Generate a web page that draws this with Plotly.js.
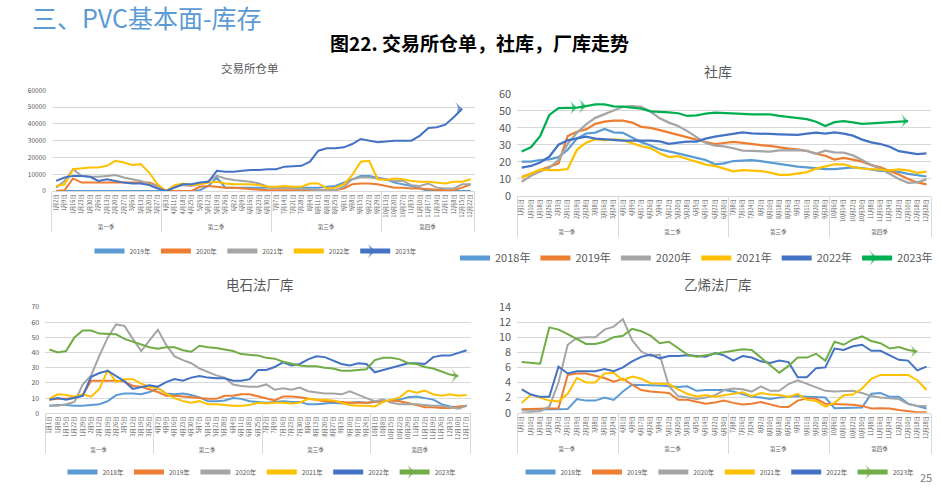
<!DOCTYPE html>
<html><head><meta charset="utf-8">
<script src="https://cdn.plot.ly/plotly-3.0.1.min.js"></script>
<style>html,body{margin:0;padding:0;background:#fff;width:941px;height:488px;overflow:hidden}#chart{position:absolute;left:0;top:0;width:941px;height:488px;overflow:hidden}</style>
</head><body><div id="chart"></div>
<script>
// ---------- categories ----------
const QUARTERS = ['第一季','第二季','第三季','第四季'];

// 交易所仓单
const wrDates = [
  ['1月2日','1月9日','1月16日','1月23日','1月30日','2月6日','2月13日','2月20日','2月27日','3月6日','3月13日','3月20日','3月27日'],
  ['4月3日','4月11日','4月18日','4月25日','5月5日','5月12日','5月19日','5月26日','6月2日','6月9日','6月16日','6月23日','6月30日'],
  ['7月7日','7月14日','7月21日','7月28日','8月4日','8月11日','8月18日','8月25日','9月1日','9月8日','9月15日','9月22日','9月29日'],
  ['10月13日','10月20日','10月27日','11月3日','11月10日','11月17日','11月24日','12月1日','12月8日','12月15日','12月22日']
];
const wr2019 = [0,0,0,0,0,0,0,0,0,0,0,0,0, 0,0,0,0,500,3000,8000,2000,2000,2000,2000,2000,2000, 2000,2000,2000,2000,2000,2000,2500,3000,5000,7000,9000,9000,8000, 7000,5000,4000,3000,1500,0,0,0,0,0,0];
const wr2020 = [0,500,7500,5000,5000,5000,5000,5000,5000,5000,5000,5000,3000, 0,0,0,0,2500,3000,2500,2000,2000,1500,1000,800,500, 500,500,500,500,500,500,500,500,1500,4000,4500,4500,4000, 3000,2000,2000,1500,1500,1000,800,500,500,2000,4000];
const wr2021 = [2000,6000,13000,9000,8500,8500,9000,9500,8000,7000,6000,4000,3000, 0,2500,3500,3000,4000,6000,9000,7500,6500,6000,5500,4500,2500, 2000,2000,1500,1000,1000,500,500,500,2500,7000,8000,8000,7500, 7000,6000,6000,3500,3000,4500,2000,1500,1500,4000,4000];
const wr2022 = [3000,4000,13000,13500,14000,14000,15000,18000,17000,15500,16000,11000,4000, 0,3500,4500,3500,4000,5000,5500,4500,4000,4000,4000,3500,2500, 2500,3000,2500,2500,4500,4500,1500,2000,4000,9500,17500,18000,7000, 6500,7500,7000,6000,5500,5500,5000,4500,5500,5500,7000];
const wr2023 = [6000,8000,9000,9000,8500,6000,7000,6000,5000,4500,4500,3500,1500, 0,2000,4000,4000,5000,5500,12000,11500,11500,12000,12500,12500,13000, 13000,14500,14800,15000,17500,24000,25500,25500,26000,28000,31000,30000,29000, 29500,30000,30000,30000,33000,37500,38000,39500,44000,49000];

// 社库 / 乙烯法厂库
const wkDates = [
  ['1月1日','1月10日','1月18日','1月26日','2月3日','2月11日','2月19日','2月28日','3月8日','3月16日','3月24日'],
  ['4月1日','4月9日','4月17日','4月26日','5月4日','5月12日','5月20日','5月28日','6月5日','6月14日','6月22日','6月30日'],
  ['7月8日','7月16日','7月24日','8月2日','8月10日','8月18日','8月26日','9月3日','9月11日','9月20日','9月28日'],
  ['10月6日','10月14日','10月22日','10月30日','11月8日','11月16日','11月24日','12月2日','12月10日','12月18日','12月28日']
];
const ss2018 = [20,20,21,21.4,22.7,27,33.6,36.6,37.1,39.3,37.3,37,34.3,31.5,29.5,27.2,26.1,25,23.6,22.3,21,18.5,19,20.4,20.8,20.9,20.3,19.5,18.6,17.8,17.1,16.7,16,15.7,15.6,16.1,16.6,16.2,15.2,14.6,14.4,14,12.9,12.2,11.3];
const ss2019 = [11,13,15,16.7,19,35.1,37.6,39,42.3,43.6,44.1,44.1,43,40.5,39.9,38.6,37.1,36,34.5,33,31.6,30.4,31,31.6,31.1,30.3,29.7,29.3,28.3,27.7,27.2,26.3,24.8,23.5,21.2,22.2,21.2,20,18,16.7,14.5,12.5,9.8,7.8,6.7];
const ss2020 = [8.2,11.7,14.2,16.4,21,30.5,37,42,45.8,48,50.5,52.3,52.7,52.2,49.5,45.5,43,41,38,34.3,31,29.5,29,27.9,26.5,26.3,26.2,25.9,26.6,26.9,26.8,26.4,24.6,26.5,25.5,25.3,23.7,21,18,15.8,12.6,9.8,7.6,7.8,9.6];
const ss2021 = [10.6,12.8,15.3,15.1,15.1,15.7,27,31.2,33.2,32.7,33.2,32.7,30.8,29.1,28,25,22.7,23.3,21.6,19.8,18.3,17.5,16,14.3,15.1,15,14.5,13.6,12.3,12.3,13.1,13.9,15.9,17.3,18.5,18.5,16.8,16,15.5,15,14.9,15.5,14.9,13.4,14.1];
const ss2022 = [16.5,17.5,19.5,23,30,32.6,33.7,34.8,33.6,33.1,32.7,32.4,32.4,32.4,32.4,31.9,30.5,31.2,31.8,31.8,33.6,34.7,35.5,36.6,37.2,36.7,36.3,36.3,36.1,36.1,35.8,36.5,37.1,36.5,37.2,36.5,35.3,33,31.4,30.4,28.8,26.2,25.3,24.5,24.9];
const ss2023 = [26,28.5,35,47.5,51.5,51.8,51.8,52.7,53.7,53.7,52.5,52.4,52,51.2,49.6,49.4,49,48.5,46.9,47.3,48.3,48.8,48.7,48.4,48.1,47.9,47.8,47.8,47.0,46.3,45.7,45,43.5,41,43.3,43.9,43.1,42.2,42.5,42.9,43.1,43.6,43.9];
const ss2023Arrows = ['2月19日','2月28日'];

// 电石法厂库
const ecDates = [
  ['1月1日','1月8日','1月15日','1月22日','1月29日','2月5日','2月12日','2月19日','2月26日','3月5日','3月12日','3月19日','3月26日'],
  ['4月2日','4月9日','4月16日','4月23日','4月30日','5月7日','5月14日','5月21日','5月28日','6月4日','6月11日','6月18日','6月25日'],
  ['7月2日','7月9日','7月16日','7月23日','7月30日','8月6日','8月13日','8月20日','8月27日','9月3日','9月10日','9月17日','9月24日'],
  ['10月1日','10月8日','10月15日','10月22日','10月29日','11月5日','11月12日','11月19日','11月26日','12月3日','12月10日','12月17日']
];
const ec2018 = [5,5.5,5.5,5,5,5.5,6,8,12,13,13,12.5,14, 16.5,13,12.5,13,12,10.5,8,8,8.5,10,9.5,8,7.5, 7,7.5,8,7.5,7.5,6,6,6.5,7,6.5,7,7.5,7, 7.5,8,8.5,9,10.5,11,10,9,6,4.5,4,5];
const ec2019 = [9,9.5,9.5,10,12,21.5,21.5,21.5,21.5,21,18,17.5,16, 14,11.5,11.5,11,10.5,10,9.5,9.5,11.5,11.5,12.5,12.5,11, 9.5,8.5,11,11,10.5,9.5,9,8,8,7.5,7,7,7, 7.5,8,8.5,8,7,5.5,4,4,3.5,3.5,4.5,5];
const ec2020 = [5,5,6,7.5,19,25,38,50,58.5,57.5,49,41,48, 55,45,37.5,35,33,29.5,27,25,23.5,19,18,17.5,17.5, 19,15.5,16.5,15.5,17,14.5,13.5,13,13,12.5,14.5,12,10, 8,9,7,6,6,6,5.5,5,5,4,3,5];
const ec2021 = [9.5,12.5,12,11,12.5,11,16,28.5,20.5,22.5,22.5,19.5,17.5, 16.5,13,10,8,7,8,6,6,5.5,5,5,5.5,7, 6.5,7,7,6.5,7,9.5,9,9,8.5,7,5.5,5,5, 4.5,7.5,9,10.5,15,13.5,15,12.5,11.5,12.5,11.5,12];
const ec2022 = [9,10,9,10.5,11.5,24,26.5,28,24.5,21,16,17,18.5, 17.5,20.5,22.5,21.5,23.5,24.5,23.5,23,23,21.5,21.5,22.5,28.5, 28.5,30.5,33.5,31.5,32.5,35.5,37.5,37,34.5,32.5,31.5,33,32.5, 27,28.5,30,31,33,33,32.5,37,38,38,39.5,41.5];
const ec2023 = [42,40,41,50,54.5,54.5,52.5,52,52,49,47,45,43.5, 42.5,43.5,43.5,41.5,40.5,44.5,43.5,43,42,41,39,38.5,38, 36.5,36,34,32.5,31.5,31,31,30,29.5,28,28,28.5,29, 35,36.5,36.5,35.5,33,32.5,30.5,29.5,27.5,25.5,24.5];

// 乙烯法厂库
const et2018 = [0.4,0.4,0.4,0.45,0.45,0.5,1.8,1.6,1.6,2.0,1.7,2.8,3.7,3.7,3.6,3.6,3.5,3.4,3.5,2.9,3.0,3.0,3.0,2.8,2.4,2.1,2.0,1.8,2.0,2.1,2.2,2.1,2.1,2.0,0.6,0.65,0.65,0.7,2.5,2.6,2.1,2.1,1.2,0.9,0.55];
const et2019 = [0.45,0.5,0.5,0.55,0.6,5.0,5.2,5.2,4.9,4.6,4.1,4.5,3.7,3.0,2.8,2.65,2.6,1.7,1.7,1.45,1.2,1.35,1.6,1.3,1.1,1.2,1.4,1.1,0.8,0.75,1.6,1.9,1.85,1.2,1.15,1.05,1.05,0.9,0.55,0.6,0.55,0.35,0.2,0.05,0.05];
const et2020 = [0,0.1,0.2,0.8,4.0,9.0,9.9,10.0,10.0,11.0,11.4,12.4,9.6,8.1,7.5,7.7,3.5,2.2,2.0,1.8,2.0,2.3,3.0,3.2,3.1,2.8,3.5,2.9,2.9,3.8,4.3,3.8,3.3,2.9,2.8,2.9,2.9,2.6,2.2,2.0,1.95,1.8,1.15,0.9,0.9];
const et2021 = [1.3,2.4,2.0,1.6,1.5,2.5,4.6,4.0,4.0,5.2,5.3,4.3,4.8,4.5,3.9,3.9,3.8,3.1,2.5,2.15,2.35,2.1,2.3,2.5,2.7,2.2,2.6,2.4,2.35,2.1,2.5,1.7,1.55,0.8,1.3,2.3,2.4,3.2,4.5,5.0,5.0,5.1,5.0,4.3,3.0];
const et2022 = [3.1,2.4,2.1,2.1,6.1,5.2,5.5,5.5,5.5,5.8,5.5,6.0,6.8,7.4,7.7,7.2,7.5,7.5,7.6,7.5,7.4,7.9,7.6,6.9,7.5,7.3,6.8,6.6,6.9,6.7,4.7,4.7,5.9,6.0,8.5,8.3,8.8,9.0,8.2,8.2,7.6,7.0,6.9,5.6,6.1];
const et2023 = [6.7,6.6,6.5,11.3,11.0,10.4,9.8,9.1,9.1,9.4,10.0,10.2,11.1,10.8,10.2,9.2,9.4,8.5,7.7,7.4,7.6,7.9,8.0,8.3,8.4,8.3,7.3,6.3,5.3,6.2,7.3,7.3,7.8,6.9,9.4,9.0,9.7,10.1,9.5,9.2,8.5,8.7,8.3,8.1];

// ---------- colours ----------
const C = {b18:'#5B9BD5', o19:'#ED7D31', g20:'#A5A5A5', y21:'#FFC000', d22:'#4472C4', g23a:'#00B050', g23b:'#70AD47'};

// ---------- helpers ----------
const W = 941, H = 488;
const fx = v => v / W;
const fy = v => 1 - v / H;

function multiX(groups, n) {
  const outer = [], inner = [];
  groups.forEach((g, qi) => g.forEach(d => { outer.push(QUARTERS[qi]); inner.push(d); }));
  return [outer.slice(0, n), inner.slice(0, n)];
}
function countCats(groups) { return groups.reduce((s, g) => s + g.length, 0); }

function series(groups, y, name, color, xa, ya, legend, width, arrowCats) {
  const x = multiX(groups, y.length);
  const t = {
    type: 'scatter', mode: 'lines', x: x, y: y, name: name,
    xaxis: xa, yaxis: ya, legend: legend,
    line: {color: color, width: width}, hoverinfo: 'skip', cliponaxis: false
  };
  if (arrowCats) {
    t.mode = 'lines+markers';
    t.marker = {
      symbol: 'arrow-wide', angle: 90, color: color,
      size: x[1].map((d, i) => (i === y.length - 1 || arrowCats.indexOf(d) >= 0) ? 11 : 0),
      line: {width: 0}
    };
  }
  return t;
}

const data = [
  series(wrDates, wr2019, '2019年', C.b18, 'x', 'y', 'legend', 2),
  series(wrDates, wr2020, '2020年', C.o19, 'x', 'y', 'legend', 2),
  series(wrDates, wr2021, '2021年', C.g20, 'x', 'y', 'legend', 2),
  series(wrDates, wr2022, '2022年', C.y21, 'x', 'y', 'legend', 2),
  series(wrDates, wr2023, '2023年', C.d22, 'x', 'y', 'legend', 2, []),

  series(wkDates, ss2018, '2018年', C.b18, 'x2', 'y2', 'legend2', 2.25),
  series(wkDates, ss2019, '2019年', C.o19, 'x2', 'y2', 'legend2', 2.25),
  series(wkDates, ss2020, '2020年', C.g20, 'x2', 'y2', 'legend2', 2.25),
  series(wkDates, ss2021, '2021年', C.y21, 'x2', 'y2', 'legend2', 2.25),
  series(wkDates, ss2022, '2022年', C.d22, 'x2', 'y2', 'legend2', 2.25),
  series(wkDates, ss2023, '2023年', C.g23a, 'x2', 'y2', 'legend2', 2.25, ss2023Arrows),

  series(ecDates, ec2018, '2018年', C.b18, 'x3', 'y3', 'legend3', 2),
  series(ecDates, ec2019, '2019年', C.o19, 'x3', 'y3', 'legend3', 2),
  series(ecDates, ec2020, '2020年', C.g20, 'x3', 'y3', 'legend3', 2),
  series(ecDates, ec2021, '2021年', C.y21, 'x3', 'y3', 'legend3', 2),
  series(ecDates, ec2022, '2022年', C.d22, 'x3', 'y3', 'legend3', 2),
  series(ecDates, ec2023, '2023年', C.g23b, 'x3', 'y3', 'legend3', 2, []),

  series(wkDates, et2018, '2018年', C.b18, 'x4', 'y4', 'legend4', 2),
  series(wkDates, et2019, '2019年', C.o19, 'x4', 'y4', 'legend4', 2),
  series(wkDates, et2020, '2020年', C.g20, 'x4', 'y4', 'legend4', 2),
  series(wkDates, et2021, '2021年', C.y21, 'x4', 'y4', 'legend4', 2),
  series(wkDates, et2022, '2022年', C.d22, 'x4', 'y4', 'legend4', 2),
  series(wkDates, et2023, '2023年', C.g23b, 'x4', 'y4', 'legend4', 2, [])
];

const FONT = '"Noto Sans CJK SC", "Noto Sans", sans-serif';
const GREY = '#595959';

function xAxis(x0, x1, groups, anchor, fs) {
  const n = countCats(groups);
  return {
    domain: [fx(x0), fx(x1)], anchor: anchor, type: 'multicategory',
    range: [-0.5, n - 0.5], showline: true, linecolor: '#D9D9D9', linewidth: 1,
    showgrid: false, zeroline: false, ticks: '', tickangle: -90,
    tickfont: {size: fs, color: GREY, family: FONT},
    showdividers: true, dividercolor: '#D9D9D9', dividerwidth: 1, fixedrange: true
  };
}
function yAxis(ytop, ybot, anchor, max, dtick, fs) {
  return {
    domain: [fy(ybot), fy(ytop)], anchor: anchor, range: [0, max], dtick: dtick, tickformat: 'd',
    showgrid: true, gridcolor: '#D9D9D9', gridwidth: 1, zeroline: false, showline: false,
    ticks: '', tickfont: {size: fs, color: GREY, family: FONT}, ticklabelstandoff: 5, fixedrange: true
  };
}
function legendAt(xp, yc, fs, xanchor) {
  return {orientation: 'h', x: fx(xp), y: fy(yc), xanchor: xanchor || 'center', yanchor: 'middle',
    font: {size: fs, color: GREY, family: FONT}, itemwidth: 30, itemsizing: 'constant',
    bgcolor: 'rgba(0,0,0,0)', tracegroupgap: 0};
}
function ann(text, xc, yc, fs, color, extra) {
  return Object.assign({text: text, x: fx(xc), y: fy(yc), xref: 'paper', yref: 'paper',
    xanchor: 'center', yanchor: 'middle', showarrow: false,
    font: {size: fs, color: color, family: FONT}}, extra || {});
}

const layout = {
  autosize: false, width: W, height: H, margin: {l: 0, r: 0, t: 0, b: 0, pad: 0},
  paper_bgcolor: '#fff', plot_bgcolor: '#fff', font: {family: FONT, color: GREY},
  xaxis:  xAxis(51.9, 474.9, wrDates, 'y', 5.5),
  yaxis:  yAxis(90.3, 191, 'x', 60000, 10000, 6.5),
  xaxis2: xAxis(517.1, 931.1, wkDates, 'y2', 5.5),
  yaxis2: yAxis(93.7, 195.7, 'x2', 60, 10, 11),
  xaxis3: xAxis(45.2, 470.8, ecDates, 'y3', 5.5),
  yaxis3: yAxis(307, 413.3, 'x3', 70, 10, 7),
  xaxis4: xAxis(517.1, 931.1, wkDates, 'y4', 5.5),
  yaxis4: yAxis(307, 412.7, 'x4', 14, 2, 11),
  legend:  legendAt(256, 251, 6.5),
  legend2: legendAt(938, 258, 11, 'right'),
  legend3: legendAt(262, 472, 6.5),
  legend4: legendAt(720, 472, 6.5),
  showlegend: true,
  annotations: [
    ann('三、PVC基本面-库存', 30, 17, 25, '#5B9BD5', {xanchor: 'left'}),
    ann('<b>图22. 交易所仓单，社库，厂库走势</b>', 479, 42, 19, '#000000'),
    ann('交易所仓单', 250, 68, 11.5, GREY),
    ann('社库', 718, 71, 14, GREY),
    ann('电石法厂库', 260, 284, 13.5, GREY),
    ann('乙烯法厂库', 718, 284, 13.5, GREY),
    ann('25', 926, 487, 11, '#808080', {yanchor: 'bottom'})
  ]
};

Plotly.newPlot('chart', data, layout, {displayModeBar: false, staticPlot: true});
</script></body></html>
